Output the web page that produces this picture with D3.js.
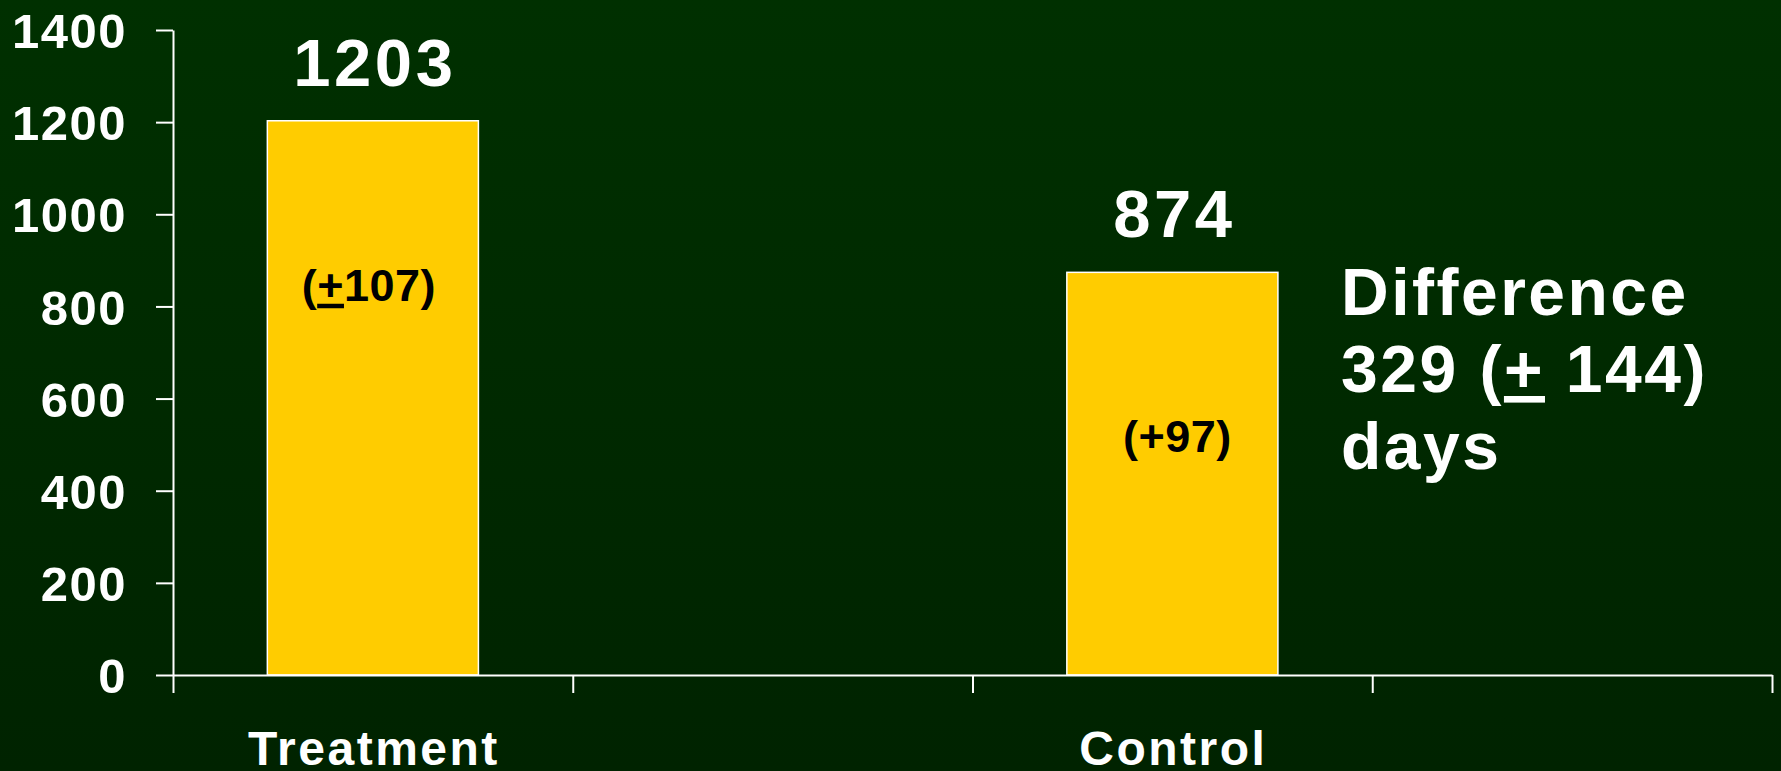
<!DOCTYPE html>
<html>
<head>
    <meta charset="utf-8">
    <script src="https://d3js.org/d3.v7.min.js"></script>
    <style>
        body { margin: 0; background: #002800; }
        text { font-family: "Liberation Sans", Arial, sans-serif; font-weight: bold; }
    </style>
</head>

<body></body>

<script>
    // categories on the x axis (2nd and 4th slots are empty in the original)
    var categories = ["Treatment", "", "Control", ""];
    var values = [1203, null, 874, null];
    var errPrefix = ["(", "", "(", ""];
    var errSign = ["+", "", "+", ""];
    var errSignUnderlined = [true, false, false, false];
    var errRest = ["107)", "", "97)", ""];
    var yTicks = [0, 200, 400, 600, 800, 1000, 1200, 1400];
    var noteLines = [
        [{t: "Difference"}],
        [{t: "329 ("}, {t: "+", u: true}, {t: " 144)"}],
        [{t: "days"}]
    ];

    var W = 1781, H = 771;
    var margin = {top: 30, right: 9, bottom: 96, left: 173};

    var svg = d3.select("body").append("svg")
        .attr("width", W)
        .attr("height", H);

    var grad = svg.append("defs").append("linearGradient")
        .attr("id", "bg").attr("x1", 0).attr("y1", 0).attr("x2", 0).attr("y2", 1);
    grad.append("stop").attr("offset", "0%").attr("stop-color", "#003000");
    grad.append("stop").attr("offset", "100%").attr("stop-color", "#002300");
    svg.append("rect").attr("width", W).attr("height", H).attr("fill", "url(#bg)");

    var x = d3.scaleBand()
        .domain(d3.range(categories.length))
        .range([margin.left, W - margin.right]);
    var xEdge = d3.scaleLinear()
        .domain([0, categories.length])
        .range([margin.left, W - margin.right]);
    var y = d3.scaleLinear()
        .domain([0, 1400])
        .range([H - margin.bottom, margin.top]);

    // y axis
    var yAxis = svg.append("g")
        .attr("transform", "translate(" + margin.left + ",0)")
        .call(d3.axisLeft(y).tickValues(yTicks).tickFormat(d3.format("d"))
            .tickSize(17).tickSizeOuter(0).tickPadding(29));
    yAxis.selectAll("path, line").attr("stroke", "#fff").attr("stroke-width", 2);
    yAxis.selectAll("text")
        .attr("fill", "#fff")
        .style("font-size", "49px")
        .style("letter-spacing", "1.5px")
        .attr("dy", "0.36em");

    // bars
    var bw = x.bandwidth() * 0.528;
    var data = values.map(function(v, i) { return {i: i, v: v}; }).filter(function(d) { return d.v != null; });

    svg.selectAll("rect.bar").data(data).enter()
        .append("rect")
        .attr("class", "bar")
        .attr("x", function(d) { return x(d.i) + (x.bandwidth() - bw) / 2; })
        .attr("y", function(d) { return y(d.v); })
        .attr("width", bw)
        .attr("height", function(d) { return y(0) - y(d.v); })
        .attr("fill", "#ffcc00")
        .attr("stroke", "#fff")
        .attr("stroke-width", 1.5);

    // x axis, ticks between categories
    var xAxis = svg.append("g")
        .attr("transform", "translate(0," + y(0) + ")")
        .call(d3.axisBottom(xEdge).tickValues(d3.range(categories.length + 1))
            .tickFormat("").tickSize(18).tickSizeOuter(0));
    xAxis.selectAll("path, line").attr("stroke", "#fff").attr("stroke-width", 2);

    // category labels
    svg.selectAll("text.cat").data(categories).enter()
        .append("text")
        .attr("class", "cat")
        .attr("x", function(d, i) { return x(i) + x.bandwidth() / 2 + 1; })
        .attr("y", 765)
        .attr("text-anchor", "middle")
        .attr("fill", "#fff")
        .style("font-size", "48px")
        .style("letter-spacing", "2.5px")
        .text(function(d) { return d; });

    // value labels above the bars
    svg.selectAll("text.val").data(data).enter()
        .append("text")
        .attr("class", "val")
        .attr("x", function(d) { return x(d.i) + x.bandwidth() / 2 + 2; })
        .attr("y", function(d) { return y(d.v) - 35; })
        .attr("text-anchor", "middle")
        .attr("fill", "#fff")
        .style("font-size", "67px")
        .style("letter-spacing", "3.5px")
        .text(function(d) { return d.v; });

    // error labels inside the bars
    var errShift = [-4, 0, 5, 0];
    var err = svg.selectAll("text.err").data(data).enter()
        .append("text")
        .attr("class", "err")
        .attr("x", function(d) { return x(d.i) + x.bandwidth() / 2 + errShift[d.i]; })
        .attr("y", function(d) { return y(d.v) + 180; })
        .attr("text-anchor", "middle")
        .attr("fill", "#000")
        .style("font-size", "45px")
        .style("letter-spacing", "0.5px");
    err.append("tspan").text(function(d) { return errPrefix[d.i]; });
    err.append("tspan")
        .style("text-decoration", function(d) { return errSignUnderlined[d.i] ? "underline" : "none"; })
        .text(function(d) { return errSign[d.i]; });
    err.append("tspan").text(function(d) { return errRest[d.i]; });

    // difference note on the right
    var note = svg.append("text")
        .attr("fill", "#fff")
        .style("font-size", "66px")
        .style("letter-spacing", "2.5px");
    noteLines.forEach(function(line, li) {
        line.forEach(function(part, pi) {
            var ts = note.append("tspan").text(part.t);
            if (pi === 0) ts.attr("x", 1341).attr("y", 315 + li * 77);
            if (part.u) ts.style("text-decoration", "underline");
        });
    });
</script>
</html>
